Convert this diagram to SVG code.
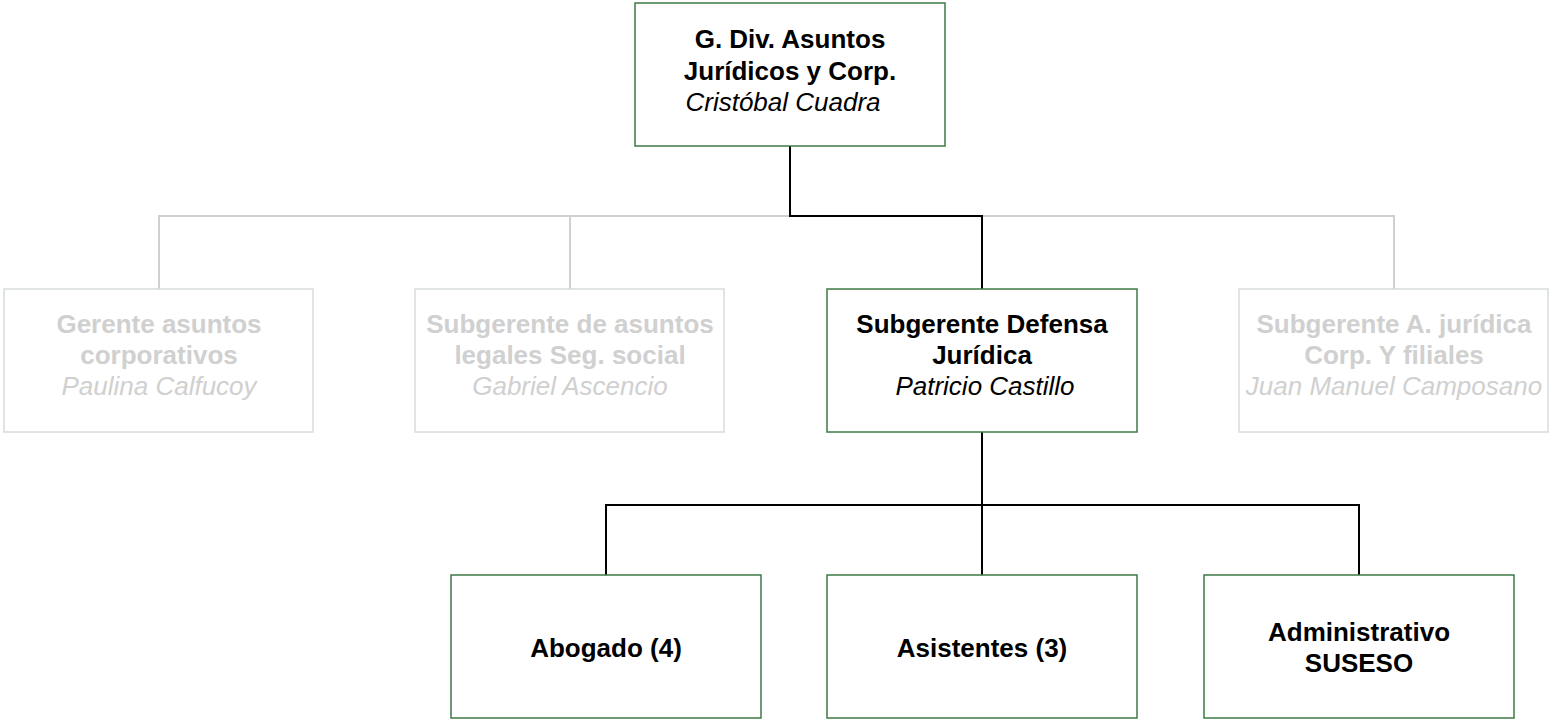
<svg xmlns="http://www.w3.org/2000/svg" width="1549" height="721" viewBox="0 0 1549 721">
<style>
.box{fill:#fff;stroke:#3f7a45;stroke-width:1.5}
.gbox{fill:#fff;stroke:#d8dcdc;stroke-width:1.5}
text{font-family:"Liberation Sans",Arial,sans-serif;font-size:26px;text-anchor:middle}
.b{font-weight:bold;fill:#000}
.i{font-style:italic;fill:#000}
.g{fill:#d0d0d0}
.k{stroke:#000;stroke-width:2;fill:none}
.gl{stroke:#d0d0d0;stroke-width:2;fill:none}
</style>
<rect width="1549" height="721" fill="#fff"/>
<g id="connectors">
<path class="gl" d="M159 289V216H791M982 216H1394V289M570 216V289"/>
<path class="k" d="M790 146V216H982V289"/>
<path class="k" d="M982 432V505M606 575V505H1359V575M982 505V575"/>
</g>
<g id="n-top">
<rect class="box" x="635" y="3" width="310" height="143"/>
<text class="b" x="790" y="48">G. Div. Asuntos</text>
<text class="b" x="790" y="80">Jurídicos y Corp.</text>
<text class="i" x="783" y="111">Cristóbal Cuadra</text>
</g>
<g id="n-gerente">
<rect class="gbox" x="4" y="289" width="309" height="143"/>
<text class="b g" x="159" y="333">Gerente asuntos</text>
<text class="b g" x="159" y="364">corporativos</text>
<text class="i g" x="159" y="395">Paulina Calfucoy</text>
</g>
<g id="n-legales">
<rect class="gbox" x="415" y="289" width="309" height="143"/>
<text class="b g" x="570" y="333">Subgerente de asuntos</text>
<text class="b g" x="570" y="364">legales Seg. social</text>
<text class="i g" x="570" y="395">Gabriel Ascencio</text>
</g>
<g id="n-defensa">
<rect class="box" x="827" y="289" width="310" height="143"/>
<text class="b" x="982" y="333">Subgerente Defensa</text>
<text class="b" x="982" y="364">Jurídica</text>
<text class="i" x="985" y="395">Patricio Castillo</text>
</g>
<g id="n-filiales">
<rect class="gbox" x="1239" y="289" width="309" height="143"/>
<text class="b g" x="1394" y="333">Subgerente A. jurídica</text>
<text class="b g" x="1394" y="364">Corp. Y filiales</text>
<text class="i g" x="1394" y="395">Juan Manuel Camposano</text>
</g>
<g id="n-abogado">
<rect class="box" x="451" y="575" width="310" height="143"/>
<text class="b" x="606" y="657">Abogado (4)</text>
</g>
<g id="n-asistentes">
<rect class="box" x="827" y="575" width="310" height="143"/>
<text class="b" x="982" y="657">Asistentes (3)</text>
</g>
<g id="n-admin">
<rect class="box" x="1204" y="575" width="310" height="143"/>
<text class="b" x="1359" y="641">Administrativo</text>
<text class="b" x="1359" y="672">SUSESO</text>
</g>
</svg>
